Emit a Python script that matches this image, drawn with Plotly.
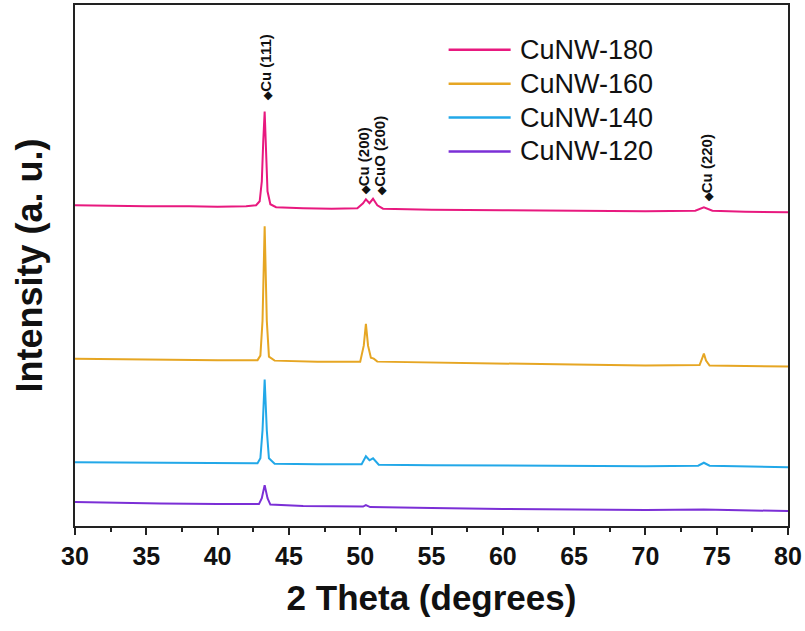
import plotly.graph_objects as go

# XRD patterns of copper nanowires (vertically stacked, arbitrary units)
names = ["CuNW-180", "CuNW-160", "CuNW-140", "CuNW-120"]
colors = ["#e8197f", "#e6a623", "#22a8e8", "#7b2fd6"]

theta_180 = [30, 32, 35, 38, 40, 42, 42.7, 42.95, 43.1, 43.2, 43.3, 43.4, 43.5, 43.7, 44.1,
             46, 48, 49.8, 50.2, 50.4, 50.65, 50.9, 51.2, 51.6, 55, 60, 65, 70, 73.5, 74.1,
             74.7, 77, 80]
int_180 = [322, 321.5, 321, 321, 320.5, 321, 322, 326, 346, 386, 416, 376, 336, 323, 320,
           319, 318.5, 319, 324, 328, 324, 328.5, 322, 318.5, 317.5, 317, 316.5, 316, 316.5, 320,
           316.5, 315.5, 315]

theta_160 = [30, 35, 40, 42.8, 43.0, 43.15, 43.3, 43.45, 43.6, 44, 47, 50, 50.25, 50.4, 50.55,
             50.75, 50.95, 51.2, 55, 60, 65, 70, 73.8, 74.0, 74.1, 74.25, 74.5, 77, 80]
int_160 = [168, 167, 166.5, 166.5, 171, 206, 301, 206, 170, 166, 165, 165, 181, 203, 181,
           169, 168, 165, 164, 163, 162, 161, 161.5, 169, 173, 166, 161, 160.5, 160]

theta_140 = [30, 35, 40, 42.8, 43.0, 43.15, 43.3, 43.45, 43.6, 44, 47, 50.1, 50.4, 50.65,
             50.9, 51.3, 55, 60, 70, 73.7, 74.1, 74.5, 80]
int_140 = [64, 63.5, 63, 63, 68, 96, 147, 96, 68, 62.5, 62, 62, 70, 66,
           68, 61.5, 61, 60.5, 60, 60.5, 63.5, 60.5, 59]

theta_120 = [30, 33, 36, 40, 42.9, 43.1, 43.3, 43.5, 43.7, 46, 50.2, 50.4, 50.7, 55, 60, 70,
             74.1, 80]
int_120 = [24, 23, 22.5, 22, 22, 28, 41, 28, 21.5, 20, 19.5, 21, 19, 18, 17, 16,
           16.5, 15]

thetas = [theta_180, theta_160, theta_140, theta_120]
intensities = [int_180, int_160, int_140, int_120]

# Reflection labels: (2θ, intensity at label base, text)
peak_theta = [43.3, 50.2, 51.35, 74.25]
peak_base = [425, 330, 330, 323]
peak_text = ["Cu (111)", "Cu (200)", "CuO (200)", "Cu (220)"]

font_family = "Liberation Sans, Arial, sans-serif"

fig = go.Figure()
for name, color, x, y in zip(names, colors, thetas, intensities):
    fig.add_trace(go.Scatter(x=x, y=y, mode="lines", name=name,
                             line=dict(color=color, width=2), showlegend=False))

for x, y, t in zip(peak_theta, peak_base, peak_text):
    fig.add_annotation(x=x, y=y, text="<span style='font-size:11px'>◆</span>" + t,
                       textangle=-90, showarrow=False,
                       xanchor="center", yanchor="bottom",
                       font=dict(family=font_family, size=15, color="#111", weight="bold"))

# Legend key: short line + series name per row, in plot-area fractions
key_x0, key_x1, key_text_x = 0.524, 0.611, 0.622
key_top, key_step = 0.914, 0.065
for i, (name, color) in enumerate(zip(names, colors)):
    ky = key_top - i * key_step
    fig.add_shape(type="line", xref="x domain", yref="y domain",
                  x0=key_x0, x1=key_x1, y0=ky, y1=ky,
                  line=dict(color=color, width=2.5))
    fig.add_annotation(xref="x domain", yref="y domain", x=key_text_x, y=ky,
                       text=name, showarrow=False, xanchor="left", yanchor="middle",
                       font=dict(family=font_family, size=27, color="#111"))

fig.update_layout(
    width=805, height=631,
    margin=dict(l=75, r=15, t=3, b=105),
    paper_bgcolor="white", plot_bgcolor="white",
    font=dict(family=font_family, color="#111"),
    showlegend=False,
    xaxis=dict(range=[30, 80], dtick=5, tick0=30, ticks="outside", ticklen=7,
               tickwidth=1.5, tickcolor="#222",
               minor=dict(dtick=2.5, ticks="outside", ticklen=4, tickcolor="#222", tickwidth=1.5),
               showline=True, linewidth=2, linecolor="#222", mirror=True,
               showgrid=False, zeroline=False,
               tickfont=dict(size=25, weight="bold"),
               title=dict(text="2 Theta (degrees)", font=dict(size=35, weight="bold"), standoff=16)),
    yaxis=dict(range=[0, 523], showticklabels=False, ticks="",
               showline=True, linewidth=2, linecolor="#222", mirror=True,
               showgrid=False, zeroline=False,
               title=dict(text="Intensity (a. u.)", font=dict(size=36, weight="bold"), standoff=19)),
)

fig.write_html("out.html")
